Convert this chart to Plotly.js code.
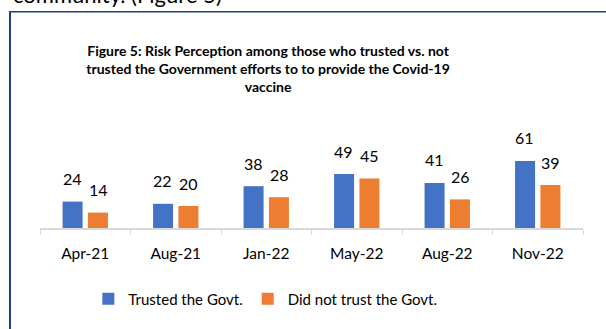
<!DOCTYPE html>
<html>
<head>
<meta charset="utf-8">
<script src="https://cdn.plot.ly/plotly-3.0.1.min.js"></script>
<style>
html,body{margin:0;padding:0;background:#fff;}
#chart{width:606px;height:329px;}
</style>
</head>
<body>
<div id="chart"></div>
<script>
const categories = ["Apr-21","Aug-21","Jan-22","May-22","Aug-22","Nov-22"];
const trusted = [24, 22, 38, 49, 41, 61];
const notTrusted = [14, 20, 28, 45, 26, 39];
const seriesNames = ["Trusted the Govt.", "Did not trust the Govt."];
const titleText = "Figure 5: Risk Perception among those who trusted vs. not<br>trusted the Government efforts to to provide the Covid-19<br>vaccine";
const headingText = "community. (Figure 5)";

const FONT = "Lato, 'Open Sans', sans-serif";
const BLUE = "#4472C4", ORANGE = "#ED7D31";

const traces = [
  {type:"bar", name:seriesNames[0], x:categories, y:trusted, marker:{color:BLUE}, hoverinfo:"none"},
  {type:"bar", name:seriesNames[1], x:categories, y:notTrusted, marker:{color:ORANGE}, hoverinfo:"none"}
];

const annotations = [];
categories.forEach((c,i)=>{
  annotations.push({x:c, y:trusted[i], xref:"x", yref:"y", text:String(trusted[i]), showarrow:false,
    xshift:-13, yshift:23, yanchor:"middle", font:{family:FONT, size:16, color:"#000"}});
  annotations.push({x:c, y:notTrusted[i], xref:"x", yref:"y", text:String(notTrusted[i]), showarrow:false,
    xshift:13, yshift:23, yanchor:"middle", font:{family:FONT, size:16, color:"#000"}});
});
annotations.push({xref:"paper", yref:"paper", x:-0.0534, y:1.985, xanchor:"left", yanchor:"bottom",
  text:headingText, showarrow:false, font:{family:FONT, size:22, color:"#000"}});

const layout = {
  width:606, height:329,
  margin:{l:40, r:23, t:118, b:101, pad:0},
  paper_bgcolor:"#fff", plot_bgcolor:"#fff",
  barmode:"group", bargap:0.44, bargroupgap:0.21,
  title:{text:titleText, font:{family:FONT, size:14, color:"#000", weight:"bold"},
    xref:"paper", x:0.42, xanchor:"center", yref:"container", y:1-56/329, yanchor:"middle"},
  xaxis:{type:"category", showgrid:false, zeroline:false, showline:true, linecolor:"#D9D9D9", linewidth:1.5,
    ticks:"outside", tickson:"boundaries", ticklen:5, tickcolor:"#D9D9D9", tickwidth:1,
    tickfont:{family:FONT, size:15.5, color:"#000"}, ticklabelstandoff:11},
  yaxis:{range:[0,100], visible:false, fixedrange:true},
  showlegend:true,
  legend:{orientation:"h", x:0.415, xanchor:"center", y:-0.645, yanchor:"middle",
    font:{family:FONT, size:15, color:"#000"}, itemwidth:30, tracegroupgap:0},
  annotations:annotations,
  shapes:[
    {type:"line", xref:"paper", yref:"paper", x0:-0.0553, x1:-0.0553, y0:1.972, y1:-1.2, line:{color:"#1F3C88", width:2}},
    {type:"line", xref:"paper", yref:"paper", x0:-0.0571, x1:1.1, y0:1.966, y1:1.966, line:{color:"#1F3C88", width:1.5}}
  ]
};

Plotly.newPlot("chart", traces, layout, {staticPlot:true, displayModeBar:false});
</script>
</body>
</html>
